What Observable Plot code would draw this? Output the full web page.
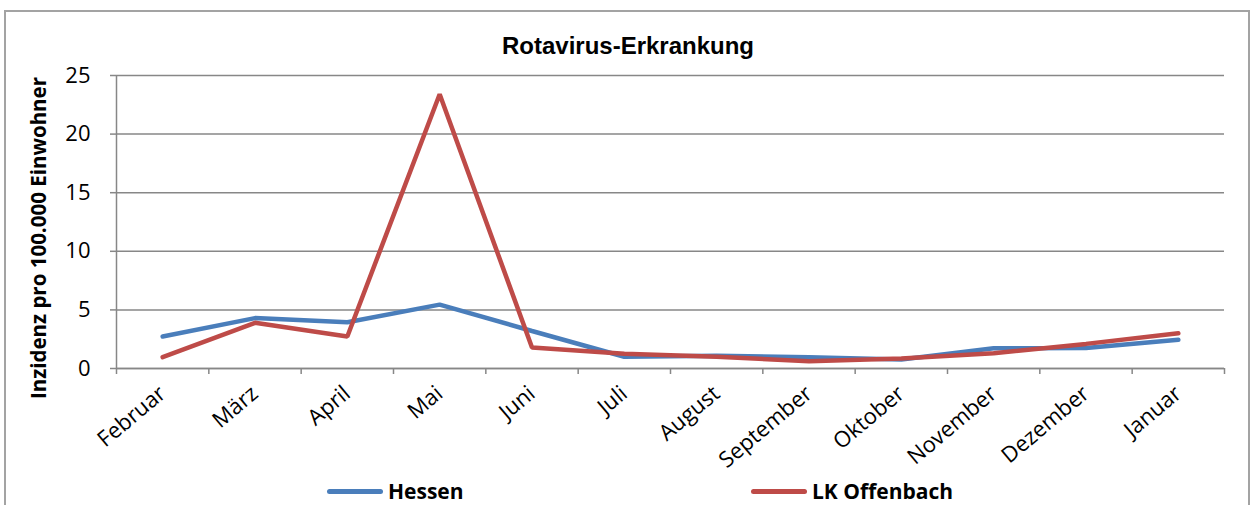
<!DOCTYPE html>
<html>
<head>
<meta charset="utf-8">
<script src="https://cdn.jsdelivr.net/npm/d3@7"></script>
<script src="https://cdn.jsdelivr.net/npm/@observablehq/plot@0.6"></script>
<style>
  html, body { margin: 0; padding: 0; background: #fff; overflow: hidden; }
  body { width: 1253px; height: 505px; position: relative; }
  #frame { position: absolute; left: 4px; top: 10px; width: 1246px; height: 600px; border: 2px solid #a3a3a3; box-sizing: border-box; }
  #title { position: absolute; left: 0; width: 1256px; top: 32px; text-align: center; font: bold 24px "Liberation Sans", Arial, sans-serif; line-height: 28px; color: #000; }
  #ylabel { position: absolute; left: 38px; top: 238px; transform: translate(-50%, -50%) rotate(-90deg); white-space: nowrap; font: bold 20.5px "Open Sans", sans-serif; line-height: 24px; color: #000; }
  #chart { position: absolute; left: 0; top: 0; }
  #legend { position: absolute; top: 476px; left: 0; width: 1253px; height: 30px; font: bold 21px "Open Sans", sans-serif; color: #000; }
  .item { position: absolute; display: flex; align-items: center; height: 30px; }
  .swatch { width: 56px; height: 5px; border-radius: 3px; margin-right: 5px; }
</style>
</head>
<body>
<div id="frame"></div>
<div id="title"></div>
<div id="chart"></div>
<div id="ylabel"></div>
<div id="legend"></div>
<script>
const chartTitle = "Rotavirus-Erkrankung";
const yLabel = "Inzidenz pro 100.000 Einwohner";
const months = ["Februar", "März", "April", "Mai", "Juni", "Juli", "August", "September", "Oktober", "November", "Dezember", "Januar"];
const hessen = [2.73, 4.3, 3.95, 5.45, 3.2, 1.0, 1.08, 0.96, 0.77, 1.73, 1.75, 2.45];
const offenbach = [0.97, 3.9, 2.73, 23.4, 1.8, 1.25, 1.0, 0.62, 0.85, 1.3, 2.1, 3.0];
const seriesNames = ["Hessen", "LK Offenbach"];
const seriesColors = ["#4a7ebb", "#be4b48"];
const yTicks = [0, 5, 10, 15, 20, 25];

const seriesValues = [hessen, offenbach];
const data = seriesNames.flatMap((s, k) => months.map((m, i) => ({i, month: m, series: s, value: seriesValues[k][i]})));
const boundaries = d3.range(months.length + 1);
const centers = months.map((m, i) => i + 0.5);
const gray = "#878787";

document.getElementById("title").textContent = chartTitle;
document.getElementById("ylabel").textContent = yLabel;

const plot = Plot.plot({
  width: 1253,
  height: 470,
  marginTop: 75,
  marginBottom: 102,
  marginLeft: 116,
  marginRight: 29,
  style: {fontFamily: "'Open Sans', sans-serif", fontSize: "22px", background: "none", overflow: "visible", color: "#000"},
  x: {type: "linear", domain: [0, months.length]},
  y: {domain: [0, 25]},
  color: {domain: seriesNames, range: seriesColors},
  marks: [
    Plot.gridY(yTicks, {stroke: gray, strokeOpacity: 1, strokeWidth: 1.5}),
    Plot.axisY(yTicks, {tickSize: 6, tickPadding: 20, stroke: gray, strokeWidth: 1.5, fill: "#000", label: null}),
    Plot.axisX(boundaries, {tickSize: 6, stroke: gray, strokeWidth: 1.5, tickFormat: () => "", label: null}),
    Plot.axisX(centers, {tickSize: 0, tickPadding: 22, tickRotate: -40, tickFormat: d => months[Math.floor(d)], label: null, fill: "#000"}),
    Plot.ruleY([0], {stroke: gray, strokeWidth: 1.5}),
    Plot.ruleX([0], {stroke: gray, strokeWidth: 1.5}),
    Plot.line(data, {x: d => d.i + 0.5, y: "value", z: "series", stroke: "series", strokeWidth: 4.5, strokeLinecap: "round", strokeLinejoin: "miter"})
  ]
});
document.getElementById("chart").appendChild(plot);

const legend = document.getElementById("legend");
const legendLeft = [327, 751];
seriesNames.forEach((s, k) => {
  const item = document.createElement("div");
  item.className = "item";
  item.style.left = legendLeft[k] + "px";
  const sw = document.createElement("div");
  sw.className = "swatch";
  sw.style.background = seriesColors[k];
  const t = document.createElement("span");
  t.textContent = s;
  item.appendChild(sw);
  item.appendChild(t);
  legend.appendChild(item);
});
</script>
</body>
</html>
